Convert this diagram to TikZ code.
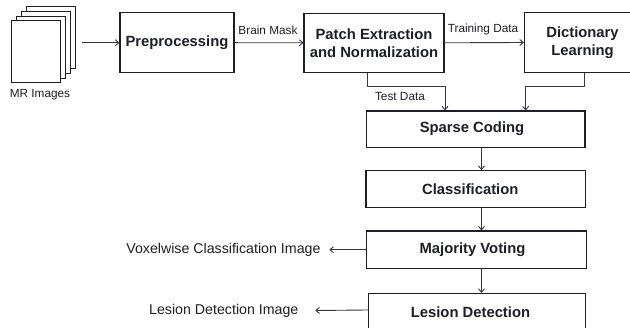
\documentclass[tikz,border=0pt]{standalone}
\usepackage{fontspec}
\setmainfont{Liberation Sans}
\usetikzlibrary{arrows.meta,calc}
\definecolor{ink}{RGB}{30,30,40}
\definecolor{wire}{RGB}{55,55,55}
\begin{document}
\begin{tikzpicture}[x=1pt,y=-1pt,
  box/.style={draw=ink, line width=1.1pt, fill=white, inner sep=0pt,
    font=\fontsize{14.8}{18}\selectfont\bfseries, text=ink, align=center},
  lbl/.style={font=\fontsize{11.8}{14}\selectfont, text=ink, inner sep=0pt},
  big/.style={font=\fontsize{14.2}{16}\selectfont, text=ink, inner sep=0pt},
  arr/.style={draw=wire, line width=0.9pt, -{Straight Barb[length=3.5pt,width=6pt]}},
  sheet/.style={draw=ink, line width=1pt, fill=white, minimum width=48.5pt,
    minimum height=62pt, inner sep=0pt}
]
\useasboundingbox (0,0) rectangle (630,328);
\fill[white] (0,0) rectangle (630,328);
\clip (0,0) rectangle (630,328);

% MR image stack
\node[sheet] (sheet4) at (51,37.9) {};
\node[sheet] (sheet3) at (46,42.5) {};
\node[sheet] (sheet2) at (41,47.1) {};
\node[sheet] (sheet1) at (36,51.7) {};
\node[lbl] (mrlbl) at (40,95) {MR Images};

% boxes
\node[box, minimum width=114pt, minimum height=60pt] (prep) at (177,42.7) {Preprocessing};
\node[box, minimum width=140pt, minimum height=59pt] (patch) at (374,42.8) {Patch Extraction\\and Normalization};
\node[box, minimum width=116pt, minimum height=59.6pt] (dict) at (582.5,42.5) {Dictionary\\Learning};
\node[box, minimum width=218.3pt, minimum height=36.3pt] (sparse) at (475.8,129.2) {Sparse Coding\hspace*{7.6pt}};
\node[box, minimum width=219.7pt, minimum height=36.6pt] (class) at (475.8,189) {Classification\hspace*{11pt}};
\node[box, minimum width=220pt, minimum height=37.3pt] (major) at (476.7,249.7) {Majority Voting\hspace*{8.4pt}};
\node[box, minimum width=217.4pt, minimum height=37pt] (lesion) at (477,312) {Lesion Detection\hspace*{13pt}};

% labels
\node[lbl] (brain) at (268,30) {Brain Mask};
\node[lbl] (train) at (483,29.2) {Training Data};
\node[lbl] (test) at (400,96.5) {Test Data};
\node[big] (vox) at (223.4,250) {Voxelwise Classification Image};
\node[big] (lesimg) at (223.8,310.5) {Lesion Detection Image};

% helper coordinates
\coordinate (mrout) at (81.7,42.7);
\coordinate (tx) at (367.3,86.7);
\coordinate (sx) at (445,86.7);
\coordinate (dx) at (584,86.7);
\coordinate (dx2) at (525.7,86.7);
\coordinate (col) at (481.5,0);

% connectors
\draw[arr] (mrout) -- (prep.west);
\draw[arr] (prep.east) -- (patch.west);
\draw[arr] (patch.east) -- (dict.west);
\draw[arr] (tx |- patch.south) -- (tx) -- (sx) -- (sx |- sparse.north);
\draw[arr] (dx |- dict.south) -- (dx) -- (dx2) -- (dx2 |- sparse.north);
\draw[arr] (sparse.south -| col) -- (class.north -| col);
\draw[arr] (class.south -| col) -- (major.north -| col);
\draw[arr] (major.south -| col) -- (lesion.north -| col);
\draw[arr] (major.west) -- ([xshift=8.6pt]vox.east |- major.west);
\draw[arr] ([yshift=2pt]lesion.west) -- ([xshift=16.7pt]lesimg.east);
\end{tikzpicture}
\end{document}
